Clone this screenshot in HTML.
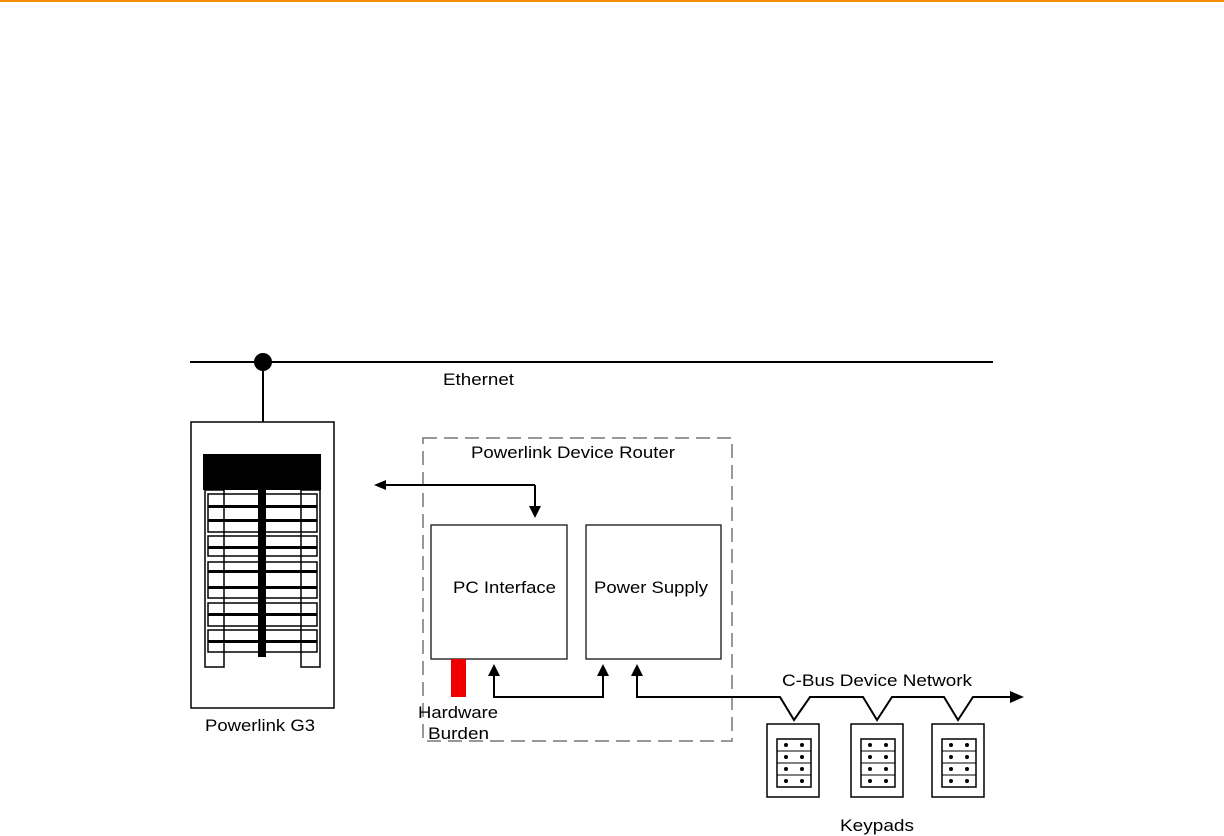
<!DOCTYPE html>
<html><head><style>body{margin:0;background:#fff}svg{display:block}text{font-family:"Liberation Sans",sans-serif;font-size:17px;fill:#000}</style></head><body>
<svg width="1224" height="836" viewBox="0 0 1224 836">
<rect x="0" y="0" width="1224" height="2" fill="#f28c00"/>
<line x1="190" y1="362" x2="993" y2="362" stroke="#000" stroke-width="2"/>
<circle cx="263" cy="362" r="9"/>
<line x1="263" y1="362" x2="263" y2="422" stroke="#000" stroke-width="2"/>
<text x="443" y="385" textLength="71" lengthAdjust="spacingAndGlyphs">Ethernet</text>
<rect x="191" y="422" width="143" height="286" fill="none" stroke="#000" stroke-width="1.5"/>
<rect x="203" y="454" width="118" height="36"/>
<g fill="none" stroke="#000" stroke-width="1.5">
<rect x="205" y="490" width="19" height="177"/><rect x="301" y="490" width="19" height="177"/>
<rect x="208" y="494" width="109" height="38"/><rect x="208" y="536" width="109" height="20"/>
<rect x="208" y="562" width="109" height="36"/><rect x="208" y="603" width="109" height="23"/>
<rect x="208" y="630" width="109" height="22"/></g>
<rect x="258" y="490" width="8" height="167"/>
<g fill="#000"><rect x="208" y="505" width="109" height="3"/><rect x="208" y="519" width="109" height="3"/><rect x="208" y="546" width="109" height="3"/><rect x="208" y="570" width="109" height="3"/><rect x="208" y="586" width="109" height="3"/><rect x="208" y="613" width="109" height="3"/><rect x="208" y="640" width="109" height="3"/></g>
<text x="205" y="731" textLength="110" lengthAdjust="spacingAndGlyphs">Powerlink G3</text>
<rect x="423" y="438" width="309" height="303" fill="none" stroke="#777" stroke-width="1.5" stroke-dasharray="14,7"/>
<text x="471" y="458" textLength="204" lengthAdjust="spacingAndGlyphs">Powerlink Device Router</text>
<rect x="431" y="525" width="136" height="134" fill="none" stroke="#000" stroke-width="1.2"/>
<rect x="586" y="525" width="135" height="134" fill="none" stroke="#000" stroke-width="1.2"/>
<text x="453" y="593" textLength="103" lengthAdjust="spacingAndGlyphs">PC Interface</text>
<text x="594" y="593" textLength="114" lengthAdjust="spacingAndGlyphs">Power Supply</text>
<rect x="451" y="659" width="15" height="38" fill="#e00"/>
<text x="418" y="718" textLength="80" lengthAdjust="spacingAndGlyphs">Hardware</text><text x="428" y="739" textLength="61" lengthAdjust="spacingAndGlyphs">Burden</text>
<g fill="none" stroke="#000" stroke-width="2">
<polyline points="535,485 384,485"/><polyline points="535,485 535,508"/>
<polyline points="494,674 494,697 603,697 603,674"/>
<polyline points="637,674 637,697 780,697 794,720 810,697 863,697 877,720 892,697 944,697 958,720 973,697 1012,697"/>
</g>
<path d="M374,485L386,480L386,490z"/><path d="M535,518L529,506L541,506z"/>
<path d="M494,664L488,676L500,676z"/><path d="M603,664L597,676L609,676z"/><path d="M637,664L631,676L643,676z"/>
<path d="M1024,697L1010,691L1010,703z"/>
<text x="782" y="686" textLength="190" lengthAdjust="spacingAndGlyphs">C-Bus Device Network</text>
<g id="k"><rect x="767" y="724" width="52" height="73" fill="none" stroke="#000" stroke-width="1.5"/>
<rect x="777" y="739" width="34" height="48" fill="none" stroke="#000" stroke-width="1.5"/>
<g stroke="#000"><line x1="777" y1="751" x2="811" y2="751"/><line x1="777" y1="763" x2="811" y2="763"/><line x1="777" y1="775" x2="811" y2="775"/></g>
<g><circle cx="786" cy="745" r="2"/><circle cx="802" cy="745" r="2"/><circle cx="786" cy="757" r="2"/><circle cx="802" cy="757" r="2"/><circle cx="786" cy="769" r="2"/><circle cx="802" cy="769" r="2"/><circle cx="786" cy="781" r="2"/><circle cx="802" cy="781" r="2"/></g></g>
<use href="#k" x="84"/><use href="#k" x="165"/>
<text x="840" y="831" textLength="74" lengthAdjust="spacingAndGlyphs">Keypads</text>
</svg></body></html>
